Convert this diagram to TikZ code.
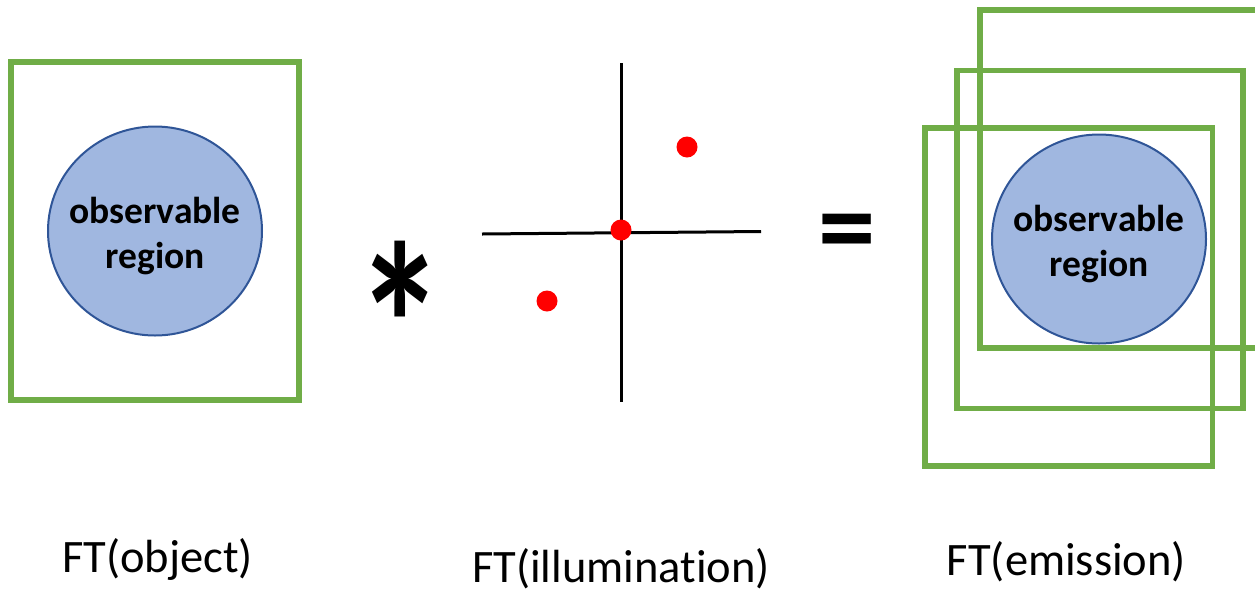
\documentclass[tikz,border=0pt]{standalone}
\usepackage{fontspec}
\setmainfont[Ligatures=NoCommon]{Carlito}
\usetikzlibrary{shapes.geometric}
\definecolor{boxgreen}{HTML}{70AD47}
\definecolor{obsfill}{HTML}{A0B7E0}
\definecolor{obsdraw}{HTML}{2F5597}
\definecolor{dotred}{HTML}{FF0000}
\tikzset{
  greenbox/.style={draw=boxgreen, line width=5.5pt, inner sep=0pt, minimum width=288pt, minimum height=338pt},
  obsregion/.style={ellipse, draw=obsdraw, fill=obsfill, line width=2pt, inner sep=0pt, minimum width=214pt, minimum height=209pt},
  obstext/.style={font=\fontsize{37.5}{45}\selectfont\bfseries, align=center, inner sep=0pt},
  axisline/.style={line width=3pt, black},
  reddot/.style={circle, fill=dotred, inner sep=0pt, minimum size=21pt},
  ftlabel/.style={font=\fontsize{46.5}{54}\selectfont, anchor=base, inner sep=0pt},
}
\begin{document}
\begin{tikzpicture}[x=1pt, y=-1pt]
\useasboundingbox (0,0) rectangle (1255,590);
\clip (0,0) rectangle (1255,590);
% left panel
\node[greenbox] (box1) at (155,231) {};
\node[obsregion] (obs1) at (155,231) {};
\node[obstext] (obs1text) at (155,236) {observable\\region};
% asterisk
\node[font=\fontsize{180}{180}\selectfont\bfseries, inner sep=0pt] (ast) at (400.5,325) {\scalebox{1}[1.3]{*}};
% cross
\coordinate (vtop) at (621,63);
\coordinate (vbot) at (621,402);
\coordinate (hleft) at (482,234);
\coordinate (hright) at (761,231.5);
\draw[axisline] (vtop) -- (vbot);
\draw[axisline] (hleft) -- (hright);
\node[reddot] (d0) at (621,230) {};
\node[reddot] (d1) at (687,147) {};
\node[reddot] (d2) at (547,301) {};
% equals
\node[font=\fontsize{115}{115}\selectfont\bfseries, inner sep=0pt] (eq) at (847.5,240) {=};
% right panel
\node[greenbox] (boxA) at (1124,178.75) {};
\node[greenbox, minimum width=286pt] (boxB) at (1100,239.25) {};
\node[greenbox, minimum width=287.5pt] (boxC) at (1068.75,297) {};
\node[obsregion] (obs2) at (1099,239) {};
\node[obstext] (obs2text) at (1099,244) {observable\\region};
% labels
\node[ftlabel] (lab1) at (157.5,572) {FT(object)};
\node[ftlabel] (lab2) at (621,582) {FT(illumination)};
\node[ftlabel] (lab3) at (1066.5,575) {FT(emission)};
\end{tikzpicture}
\end{document}
